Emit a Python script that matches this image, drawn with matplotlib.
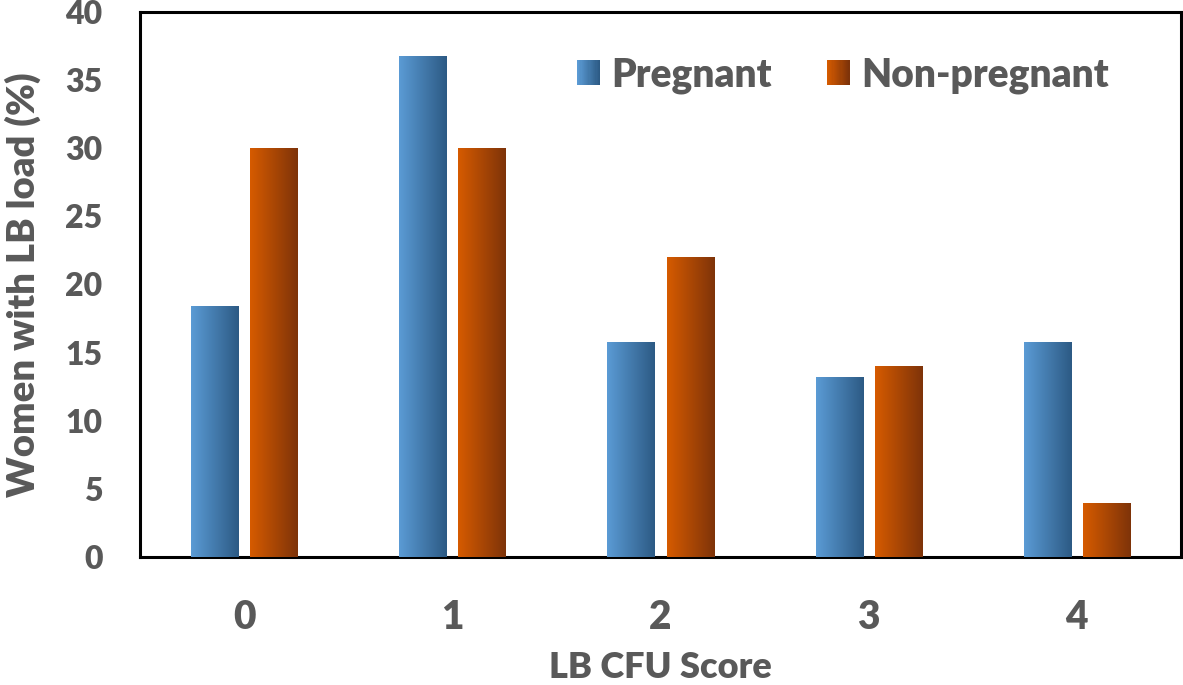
import numpy as np
import matplotlib
matplotlib.use("Agg")
import matplotlib.pyplot as plt
from matplotlib.patches import Rectangle
from matplotlib.legend_handler import HandlerBase
from matplotlib.colors import LinearSegmentedColormap, to_rgb

categories = ["0", "1", "2", "3", "4"]
pregnant = [18.4, 36.8, 15.8, 13.2, 15.8]
non_pregnant = [30, 30, 22, 14, 4]
series_names = ["Pregnant", "Non-pregnant"]
y_ticks = [0, 5, 10, 15, 20, 25, 30, 35, 40]

TEXT = "#595959"
BLUE = ("#5B9BD5", "#2C5A84")
ORANGE = ("#D65B00", "#7E3309")
W = 'heavy'

plt.rcParams['font.family'] = ['Lato', 'DejaVu Sans']
plt.rcParams['font.weight'] = W

fig = plt.figure(figsize=(11.83, 6.85), dpi=100)
ax = fig.add_axes([140/1183, 128/685, 1041/1183, 545/685])

x = np.arange(len(categories))
w = 0.226
off = 0.142
b1 = ax.bar(x - off, pregnant, width=w, color=BLUE[0], zorder=2)
b2 = ax.bar(x + off, non_pregnant, width=w, color=ORANGE[0], zorder=2)

def grad(cols):
    return LinearSegmentedColormap.from_list("g", [to_rgb(cols[0]), to_rgb(cols[1])])

g = np.linspace(0, 1, 256).reshape(1, -1)
for bars, cols in ((b1, BLUE), (b2, ORANGE)):
    cm = grad(cols)
    for p in bars:
        x0, y0 = p.get_x(), p.get_y()
        ww, hh = p.get_width(), p.get_height()
        im = ax.imshow(g, cmap=cm, aspect='auto', extent=[x0, x0 + ww, y0, y0 + hh],
                       zorder=3, interpolation='bilinear')
        im.set_clip_path(p)

ax.set_xlim(-0.5, 4.5)
ax.set_ylim(0, 40)
ax.set_yticks(y_ticks)
ax.set_xticks(x)
ax.set_xticklabels(categories)
ax.tick_params(axis='y', length=0, pad=27, labelsize=23, labelcolor=TEXT)
ax.tick_params(axis='x', length=0, pad=30, labelsize=28, labelcolor=TEXT)
for lab in ax.get_xticklabels() + ax.get_yticklabels():
    lab.set_fontweight(W)
for s in ax.spines.values():
    s.set_linewidth(2.2)
    s.set_color('black')
ax.set_xlabel("LB CFU Score", fontsize=26, color=TEXT, fontweight=W, labelpad=11)
ax.set_ylabel("Women with LB load (%)", fontsize=27.5, color=TEXT, fontweight=W)
ax.yaxis.set_label_coords(-0.095, 0.5)


class GradHandler(HandlerBase):
    def __init__(self, cols):
        super().__init__()
        self.cols = cols

    def create_artists(self, legend, orig_handle, xdescent, ydescent, width, height, fontsize, trans):
        n = 20
        c0 = np.array(to_rgb(self.cols[0])); c1 = np.array(to_rgb(self.cols[1]))
        arts = []
        for i in range(n):
            c = c0 + (c1 - c0) * i / (n - 1)
            r = Rectangle((-xdescent + width * i / n, -ydescent), width / n * 1.05, height,
                          facecolor=c, edgecolor='none', transform=trans)
            arts.append(r)
        return arts

h1 = Rectangle((0, 0), 1, 1)
h2 = Rectangle((0, 1), 1, 1)
leg = fig.legend([h1, h2], series_names, loc='center left',
                 bbox_to_anchor=(577/1183, 1 - 75/685), ncol=2, frameon=False,
                 fontsize=28, handlelength=0.59, handleheight=0.59, handletextpad=0.3,
                 columnspacing=1.4, borderpad=0, borderaxespad=0,
                 handler_map={h1: GradHandler(BLUE), h2: GradHandler(ORANGE)})
for t in leg.get_texts():
    t.set_color(TEXT)
    t.set_fontweight(W)

fig.savefig("out.png", dpi=100)
